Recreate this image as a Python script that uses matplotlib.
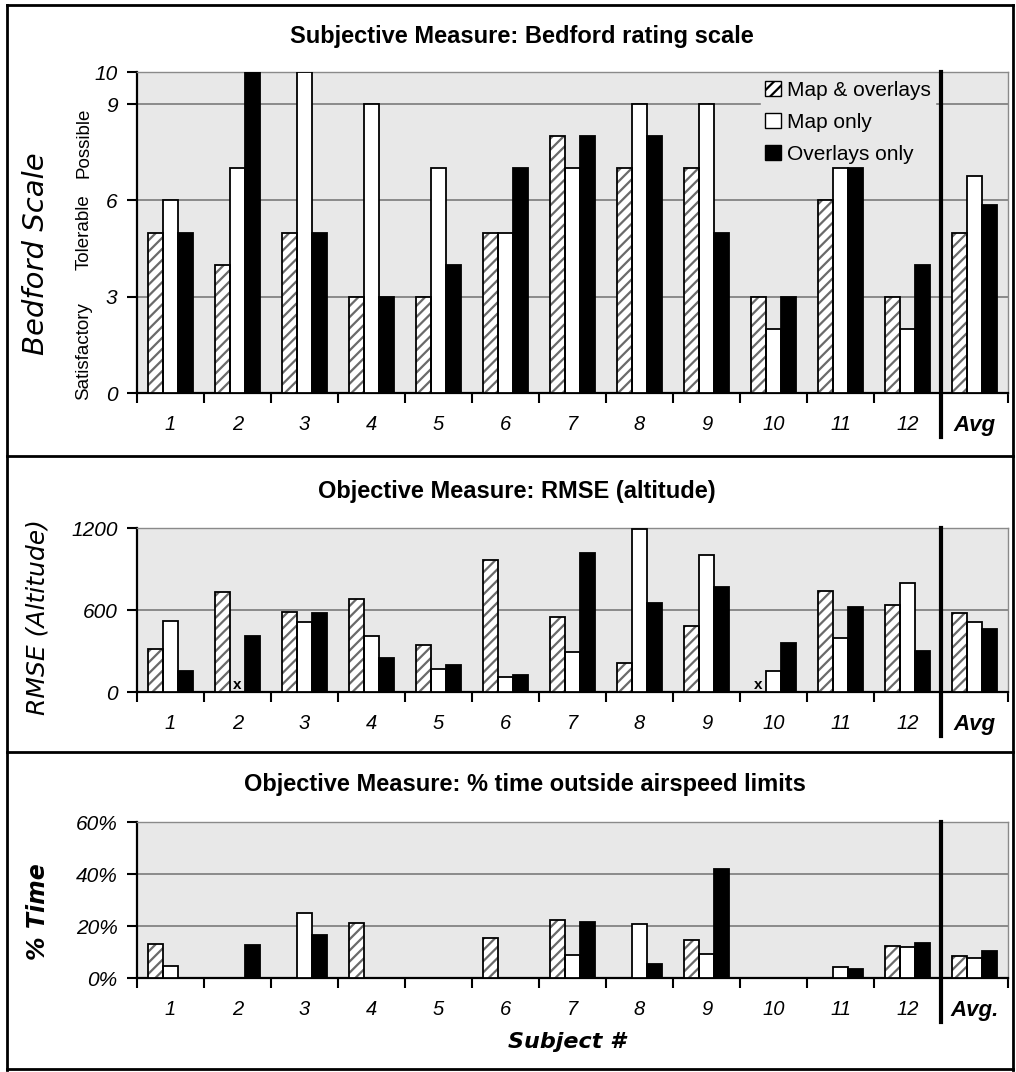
import numpy as np
import matplotlib
matplotlib.use('Agg')
import matplotlib.pyplot as plt
from matplotlib.lines import Line2D
from matplotlib.patches import Patch

plt.rcParams['font.family'] = ['Liberation Sans', 'DejaVu Sans']
plt.rcParams['hatch.linewidth'] = 1.6

# data
subjects = ['1', '2', '3', '4', '5', '6', '7', '8', '9', '10', '11', '12', 'Avg']
series = ['Map & overlays', 'Map only', 'Overlays only']

bedford_map_overlays = [5, 4, 5, 3, 3, 5, 8, 7, 7, 3, 6, 3, 5.0]
bedford_map_only = [6, 7, 10, 9, 7, 5, 7, 9, 9, 2, 7, 2, 6.75]
bedford_overlays_only = [5, 10, 5, 3, 4, 7, 8, 8, 5, 3, 7, 4, 5.85]

nan = np.nan
rmse_map_overlays = [312, 734, 588, 678, 344, 966, 551, 210, 483, nan, 739, 637, 576]
rmse_map_only = [519, nan, 510, 412, 168, 107, 295, 1190, 1002, 154, 393, 800, 514]
rmse_overlays_only = [154, 412, 576, 251, 198, 124, 1015, 649, 771, 356, 624, 300, 461]

time_map_overlays = [13.1, 0, 0, 21.3, 0, 15.3, 22.3, 0, 14.6, 0, 0, 12.4, 8.6]
time_map_only = [4.6, 0, 25.1, 0, 0, 0, 8.8, 20.7, 9.1, 0, 4.1, 11.8, 7.8]
time_overlays_only = [0, 12.7, 16.5, 0, 0, 0, 21.7, 5.4, 41.9, 0, 3.3, 13.3, 10.4]

bg = '#e8e8e8'
hatch_col = '#6a6a6a'

fig = plt.figure(figsize=(10.16, 10.72), dpi=100)
W, H = 1016.0, 1072.0


def ax_at(left, top, right, bottom):
    return fig.add_axes([left / W, 1 - bottom / H, (right - left) / W, (bottom - top) / H])


def panel(ax, vals, ymax, yticks, ylabels, last_label, div_below):
    ax.set_facecolor(bg)
    x = np.arange(len(subjects))
    w = 0.224
    for k, v in enumerate(vals):
        v = np.array(v, dtype=float)
        h = np.nan_to_num(v)
        pos = x + (k - 1) * w
        if k == 0:
            ax.bar(pos, h, w, color='white', hatch='///', edgecolor=hatch_col, linewidth=0, zorder=3)
            ax.bar(pos, h, w, fill=False, edgecolor='black', linewidth=1.3, zorder=4)
        elif k == 1:
            ax.bar(pos, h, w, color='white', edgecolor='black', linewidth=1.3, zorder=3)
        else:
            ax.bar(pos, h, w, color='black', edgecolor='black', linewidth=1.3, zorder=3)
        for p, val in zip(pos, v):
            if np.isnan(val):
                ax.text(p, 0, 'x', ha='center', va='bottom', fontsize=11, fontweight='bold', zorder=5)
    ax.set_xlim(-0.5, len(subjects) - 0.5)
    ax.set_ylim(0, ymax)
    ax.set_yticks(yticks)
    ax.set_yticklabels(ylabels, fontsize=15, style='italic')
    ax.set_xticks(np.arange(len(subjects) + 1) - 0.5)
    ax.set_xticklabels([])
    ax.set_xticks(x, minor=True)
    labels = subjects[:-1] + [last_label]
    ax.set_xticklabels(labels, minor=True, fontsize=14.5, style='italic')
    ax.get_xticklabels(minor=True)[-1].set_fontweight('bold')
    ax.get_xticklabels(minor=True)[-1].set_fontsize(16)
    ax.tick_params(axis='x', which='major', direction='out', length=7, width=1.5)
    ax.tick_params(axis='x', which='minor', length=0, pad=16)
    ax.tick_params(axis='y', direction='out', length=7, width=1.5, pad=7)
    ax.grid(axis='y', color='#7a7a7a', linewidth=1.2, zorder=1)
    ax.set_axisbelow(True)
    for s in ['left', 'bottom']:
        ax.spines[s].set_linewidth(1.6)
    for s in ['top', 'right']:
        ax.spines[s].set_color('#8a8a8a')
        ax.spines[s].set_linewidth(1.0)
    ax.plot([len(subjects) - 1.5] * 2, [1.0, -div_below], transform=ax.get_xaxis_transform(),
            color='black', lw=3, clip_on=False, zorder=6)


ax1 = ax_at(137, 72, 1008, 393)
panel(ax1, [bedford_map_overlays, bedford_map_only, bedford_overlays_only],
      10, [0, 3, 6, 9, 10], ['0', '3', '6', '9', '10'], 'Avg', 0.137)
handles = [Patch(facecolor='white', edgecolor='black', hatch='///'),
           Patch(facecolor='white', edgecolor='black'),
           Patch(facecolor='black', edgecolor='black')]
leg = ax1.legend(handles, series, loc='upper right', bbox_to_anchor=(0.916, 0.985), frameon=True,
                 facecolor=bg, edgecolor=bg, framealpha=1, fancybox=False, fontsize=15,
                 handlelength=0.75, handleheight=0.75, handletextpad=0.3, labelspacing=0.62,
                 borderpad=0.2, borderaxespad=0)
leg.set_zorder(2)
tr = ax1.get_yaxis_transform()
ax1.text(-0.061, 7.8, 'Possible', rotation=90, ha='center', va='center', fontsize=13.5, transform=tr)
ax1.text(-0.061, 5.0, 'Tolerable', rotation=90, ha='center', va='center', fontsize=13.5, transform=tr)
ax1.text(-0.061, 1.3, 'Satisfactory', rotation=90, ha='center', va='center', fontsize=13.5, transform=tr)

ax2 = ax_at(137, 528, 1008, 692)
panel(ax2, [rmse_map_overlays, rmse_map_only, rmse_overlays_only],
      1200, [0, 600, 1200], ['0', '600', '1200'], 'Avg', 0.27)

ax3 = ax_at(137, 822, 1008, 978)
panel(ax3, [time_map_overlays, time_map_only, time_overlays_only],
      60, [0, 20, 40, 60], ['0%', '20%', '40%', '60%'], 'Avg.', 0.28)

# titles and axis labels
fig.text(522 / W, 1 - 37 / H, 'Subjective Measure: Bedford rating scale', ha='center', va='center',
         fontsize=17, fontweight='bold')
fig.text(517 / W, 1 - 492 / H, 'Objective Measure: RMSE (altitude)', ha='center', va='center',
         fontsize=17, fontweight='bold')
fig.text(525 / W, 1 - 785 / H, 'Objective Measure: % time outside airspeed limits', ha='center',
         va='center', fontsize=17, fontweight='bold')

fig.text(36 / W, 1 - 254 / H, 'Bedford Scale', rotation=90, ha='center', va='center',
         fontsize=21, style='italic', family=['DejaVu Sans'])
fig.text(38 / W, 1 - 617 / H, 'RMSE (Altitude)', rotation=90, ha='center', va='center',
         fontsize=18, style='italic', family=['DejaVu Sans'])
fig.text(38 / W, 1 - 912 / H, '% Time', rotation=90, ha='center', va='center',
         fontsize=17, style='italic', fontweight='bold', family=['DejaVu Sans'])
fig.text(567 / W, 1 - 1042 / H, 'Subject #', ha='center', va='center',
         fontsize=16, style='italic', fontweight='bold', family=['DejaVu Sans'])

# frame and separators
for (x0, y0, x1, y1) in [(7, 5, 1013, 5), (7, 5, 7, 1070), (1013, 5, 1013, 1070),
                         (7, 1069, 1013, 1069), (7, 456, 1013, 456), (7, 752, 1013, 752)]:
    fig.add_artist(Line2D([x0 / W, x1 / W], [1 - y0 / H, 1 - y1 / H], color='black', lw=2))

fig.savefig('out.png', dpi=100)
